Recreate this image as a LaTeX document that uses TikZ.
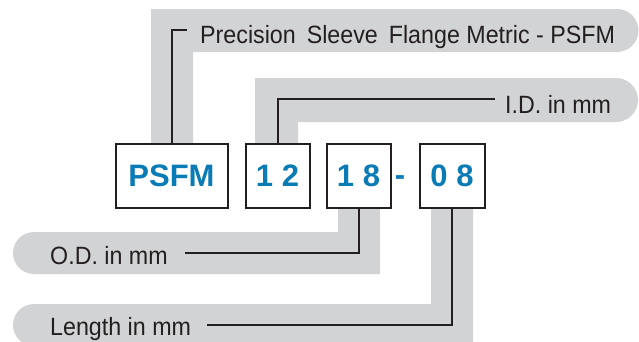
\documentclass[tikz,border=0pt]{standalone}
\usepackage{fontspec}
\setmainfont{Liberation Sans}
\newfontfamily\lblfont{Liberation Sans}[FakeStretch=0.93]
\newfontfamily\codefont{Liberation Sans}
\definecolor{bandgray}{HTML}{D1D3D4}
\definecolor{linec}{HTML}{231F20}
\definecolor{codeblue}{HTML}{0A7BB5}
\tikzset{
  band/.style={fill=bandgray, draw=none},
  conn/.style={draw=linec, line width=2pt},
  codebox/.style={draw=linec, line width=2pt, fill=white, minimum height=64pt,
    inner sep=0pt, text=codeblue, font=\codefont\bfseries\fontsize{31}{36}\selectfont},
  lbl/.style={anchor=base west, inner sep=0pt, text=linec,
    font=\lblfont\fontsize{25}{30}\selectfont},
}
\begin{document}
\begin{tikzpicture}[x=1pt,y=-1pt]
\useasboundingbox (0,0) rectangle (639,341);
\clip (0,0) rectangle (639,341);
% grey bands
\fill[band] (151,144) -- (151,9) -- (617,9) arc(-90:90:21.5) -- (193,52) -- (193,144) -- cycle;
\fill[band] (255,144) -- (255,78) -- (616,78) arc(-90:90:22) -- (298,122) -- (298,144) -- cycle;
\fill[band] (380,207) -- (380,274) -- (34,274) arc(90:270:21) -- (338,232) -- (338,207) -- cycle;
\fill[band] (473,207) -- (473,346) -- (34,346) arc(90:270:21) -- (431,304) -- (431,207) -- cycle;
% code boxes
\node[codebox, minimum width=112pt] (psfm) at (171.5,175.5) {PSFM};
\node[codebox, minimum width=64pt] (id12) at (277.5,175.5) {1 2};
\node[codebox, minimum width=64pt] (od18) at (358.5,175.5) {1 8};
\node[codebox, minimum width=65pt] (len08) at (452,175.5) {0 8};
\node[anchor=base, inner sep=0pt, text=codeblue, font=\codefont\bfseries\fontsize{31}{36}\selectfont] (dash) at (400,185) {-};
% connector ends
\coordinate (tEnd) at (187,30);
\coordinate (idEnd) at (495,99);
\coordinate (odEnd) at (185,253);
\coordinate (lenEnd) at (207,325);
% connectors
\draw[conn] (psfm.north) |- (tEnd);
\draw[conn] (id12.north) |- (idEnd);
\draw[conn] (od18.south) |- (odEnd);
\draw[conn] (len08.south) |- (lenEnd);
% labels
\node[lbl] (title) at (200,43) {Precision\hspace{11pt}Sleeve\hspace{11pt}Flange Metric - PSFM};
\node[lbl] (idlbl) at (505,113) {I.D. in mm};
\node[lbl] (odlbl) at (50,264) {O.D. in mm};
\node[lbl] (lenlbl) at (50,335) {Length in mm};
\end{tikzpicture}
\end{document}
